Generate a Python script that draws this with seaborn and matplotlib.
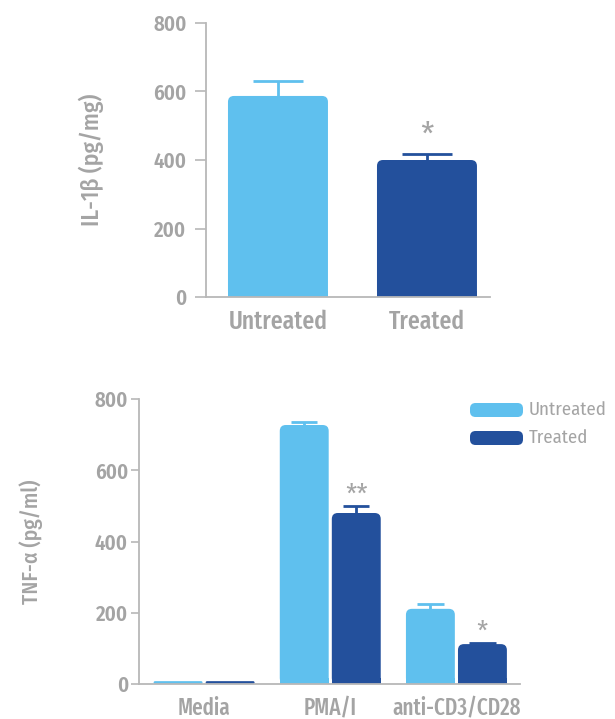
import matplotlib
matplotlib.use("Agg")
import matplotlib.pyplot as plt
import seaborn as sns
import pandas as pd
from matplotlib.patches import FancyBboxPatch, Rectangle

# IL-1beta panel
il1b_groups = ["Untreated", "Treated"]
il1b_means = [587, 400]
il1b_err = [44, 17]
il1b_marks = ["", "*"]

# TNF-alpha panel
tnf_stimuli = ["Media", "PMA/I", "anti-CD3/CD28"]
tnf_untreated = [8, 727, 211]
tnf_treated = [8, 480, 112]
tnf_untreated_err = [0, 9, 14]
tnf_treated_err = [0, 20, 4]
tnf_marks_treated = ["", "**", "*"]

yticks = [0, 200, 400, 600, 800]

LIGHT = "#5fc0ee"
DARK = "#23509c"
GREY = "#a4a4a4"
SPINE = "#b8b8b8"
COND = ["Fira Sans Condensed", "DejaVu Sans"]
XCOND = ["Fira Sans Extra Condensed", "Fira Sans Condensed", "DejaVu Sans"]

sns.set_theme(style="white")
plt.rcParams["font.family"] = COND

fig = plt.figure(figsize=(6.15, 7.19), dpi=100)
W, H = 615, 719


def axes_px(left, top, right, bottom):
    return fig.add_axes([left / W, 1 - bottom / H, (right - left) / W, (bottom - top) / H])


def style_axes(ax, ylabel, label_size, xtick_size, tick_len, tick_pad, label_x):
    ax.set_ylim(0, 800)
    ax.set_yticks(yticks)
    ax.set_yticklabels([str(t) for t in yticks], fontsize=15, color=GREY,
                       fontweight=600)
    for lab in ax.get_xticklabels():
        lab.set_fontsize(xtick_size)
        lab.set_color(GREY)
        lab.set_fontweight(500)
        lab.set_family(XCOND)
    ax.set_xlabel("")
    ax.set_ylabel(ylabel, fontsize=label_size, color=GREY, fontweight=500)
    ax.yaxis.set_label_coords(label_x, 0.5)
    for s in ["top", "right"]:
        ax.spines[s].set_visible(False)
    for s in ["left", "bottom"]:
        ax.spines[s].set_color(SPINE)
        ax.spines[s].set_linewidth(1.3)
    ax.tick_params(axis="y", left=True, length=tick_len, width=1.2, color=SPINE,
                   pad=tick_pad)
    ax.tick_params(axis="x", bottom=False, pad=3)
    ax.set_facecolor("none")


def ax_aspect(ax):
    bb = ax.get_window_extent()
    (x0, x1), (y0, y1) = ax.get_xlim(), ax.get_ylim()
    return ((y1 - y0) / bb.height) / ((x1 - x0) / bb.width)


def round_bars(ax, bars, color, rad_px=6):
    # redraw bars with rounded top corners
    bb = ax.get_window_extent()
    x0, x1 = ax.get_xlim()
    r = rad_px * (x1 - x0) / bb.width
    asp = ax_aspect(ax)
    for b in bars:
        x, w, h = b.get_x(), b.get_width(), b.get_height()
        b.set_visible(False)
        if h <= 0:
            continue
        if h < 2.5 * r * asp:
            rr = h / (2 * asp)
        else:
            rr = r
        ax.add_patch(FancyBboxPatch((x, 0), w, h,
                                    boxstyle=f"round,pad=0,rounding_size={rr}",
                                    mutation_aspect=asp, facecolor=color,
                                    edgecolor="none", zorder=2))
        if rr == r:
            ax.add_patch(Rectangle((x, 0), w, r * asp * 1.05, facecolor=color,
                                   edgecolor="none", zorder=2))


def up_errorbar(ax, bar, err, color, cap_frac, lw):
    if err <= 0:
        return
    cx = bar.get_x() + bar.get_width() / 2
    top = bar.get_height()
    ax.vlines(cx, top - 5, top + err, color=color, lw=lw, zorder=1)
    half = bar.get_width() * cap_frac / 2
    ax.hlines(top + err, cx - half, cx + half, color=color, lw=lw, zorder=1)


# ---- top panel: IL-1beta ----
ax1 = axes_px(206, 23, 490, 297)
df1 = pd.DataFrame({"group": il1b_groups, "value": il1b_means})
sns.barplot(data=df1, x="group", y="value", hue="group", palette=[LIGHT, DARK],
            errorbar=None, width=0.671, legend=False, ax=ax1)
ax1.set_xlim(-0.483, 1.423)
style_axes(ax1, "IL-1β (pg/mg)", 17, 18.5, 8, 6, -0.36)
bars1 = [c[0] for c in ax1.containers]
for bar, err, col, mark in zip(bars1, il1b_err, [LIGHT, DARK], il1b_marks):
    up_errorbar(ax1, bar, err, col, 0.5, 2.0)
    if mark:
        ax1.text(bar.get_x() + bar.get_width() / 2, bar.get_height() + err + 52, mark,
                 ha="center", va="center", fontsize=24, color=GREY)
for bar, col in zip(bars1, [LIGHT, DARK]):
    round_bars(ax1, [bar], col)

# ---- bottom panel: TNF-alpha ----
ax2 = axes_px(139, 399, 520, 684)
df2 = pd.DataFrame({
    "stimulus": tnf_stimuli * 2,
    "value": tnf_untreated + tnf_treated,
    "condition": ["Untreated"] * 3 + ["Treated"] * 3,
})
sns.barplot(data=df2, x="stimulus", y="value", hue="condition",
            palette=[LIGHT, DARK], errorbar=None, width=0.825, gap=0.06,
            legend=False, ax=ax2)
ax2.set_xlim(-0.516, 2.504)
style_axes(ax2, "TNF-α (pg/ml)", 15.5, 16.5, 6, 2, -0.252)
cont_u, cont_t = ax2.containers
for bar, err in zip(cont_u, tnf_untreated_err):
    up_errorbar(ax2, bar, err, LIGHT, 0.54, 2.0)
for bar, err, mark in zip(cont_t, tnf_treated_err, tnf_marks_treated):
    up_errorbar(ax2, bar, err, DARK, 0.54, 2.0)
    if mark:
        ax2.text(bar.get_x() + bar.get_width() / 2, bar.get_height() + err + 28, mark,
                 ha="center", va="center", fontsize=20, color=GREY)
round_bars(ax2, list(cont_u), LIGHT)
round_bars(ax2, list(cont_t), DARK)

# legend with rounded swatches
for i, (name, col) in enumerate([("Untreated", LIGHT), ("Treated", DARK)]):
    y = 410 + i * 28
    fig.patches.append(FancyBboxPatch((470 / W, 1 - (y + 7) / H), 53 / W, 14 / H,
                                      boxstyle="round,pad=0,rounding_size=0.009",
                                      mutation_aspect=W / H,
                                      transform=fig.transFigure, facecolor=col,
                                      edgecolor="none"))
    fig.text(529 / W, 1 - y / H, name, fontsize=13.5, color=GREY, va="center", ha="left")

fig.savefig("out.png", dpi=100)
